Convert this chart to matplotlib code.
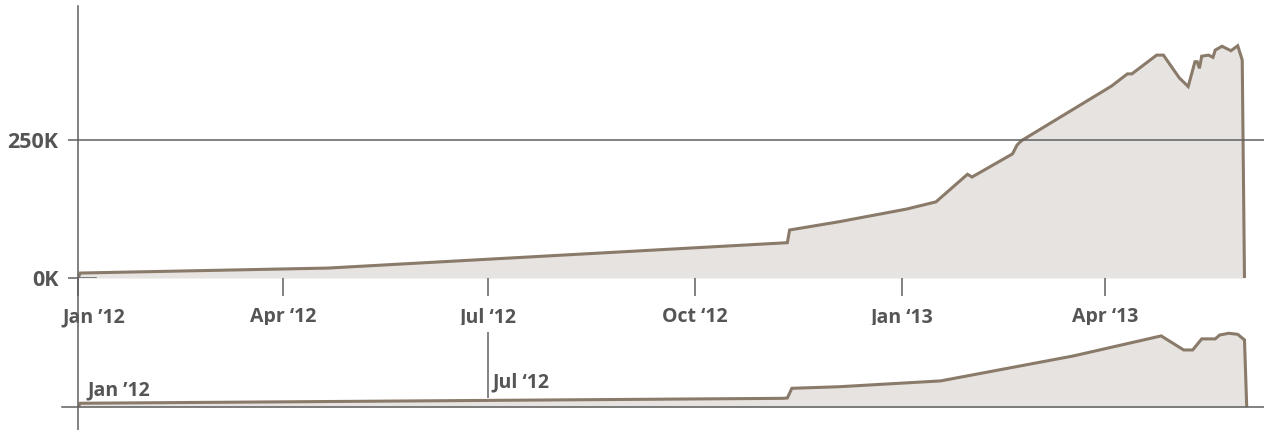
import numpy as np
import pandas as pd
import matplotlib
matplotlib.use("Agg")
import matplotlib.pyplot as plt
import matplotlib.dates as mdates
from matplotlib.lines import Line2D
from matplotlib.transforms import ScaledTranslation

# main series (thousands)
main_dates = ["2012-01-01", "2012-01-02", "2012-04-21", "2012-11-11", "2012-11-12",
              "2012-12-04", "2013-01-03", "2013-01-16", "2013-01-30", "2013-02-01",
              "2013-02-19", "2013-02-21", "2013-02-23", "2013-04-04", "2013-04-11",
              "2013-04-13", "2013-04-24", "2013-04-27", "2013-05-04", "2013-05-08",
              "2013-05-11", "2013-05-12", "2013-05-13", "2013-05-14", "2013-05-17",
              "2013-05-19", "2013-05-20", "2013-05-23", "2013-05-27", "2013-05-30",
              "2013-06-01", "2013-06-02"]
main_vals = [0, 9, 18, 64, 87,
             102, 125, 138, 188, 183,
             225, 241, 249, 348, 370,
             370, 404, 404, 363, 347,
             392, 392, 380, 402, 404,
             400, 413, 420, 412, 421,
             395, 0]

# navigator series (thousands)
nav_dates = ["2012-01-01", "2012-01-02", "2012-11-09", "2012-11-11", "2012-11-13",
             "2012-12-04", "2013-01-18", "2013-03-18", "2013-04-26", "2013-05-06",
             "2013-05-10", "2013-05-14", "2013-05-20", "2013-05-22", "2013-05-26",
             "2013-05-30", "2013-06-02", "2013-06-03"]
nav_vals = [0, 23, 51, 53, 108,
            117, 150, 292, 406, 326,
            326, 389, 389, 411, 421,
            415, 383, 0]

tick_dates = ["2012-01-01", "2012-04-01", "2012-07-01", "2012-10-01", "2013-01-01", "2013-04-01"]
tick_labels = ["Jan \u201912", "Apr \u201812", "Jul \u201812", "Oct \u201812", "Jan \u201813", "Apr \u201813"]
y_ticks = [0, 250]
y_labels = ["0K", "250K"]

line_c = "#8a7a69"
fill_c = "#e7e3e0"
text_c = "#555555"
axis_c = "#5f5f5f"

plt.rcParams['font.family'] = ['Open Sans', 'DejaVu Sans']

W, H = 1264, 430
fig = plt.figure(figsize=(W / 100, H / 100), dpi=100)

x_left = pd.Timestamp("2012-01-01")
x_right = pd.Timestamp("2013-06-10 16:00")

md = pd.to_datetime(main_dates)
nd = pd.to_datetime(nav_dates)

# main chart
ax = fig.add_axes([78 / W, (H - 278) / H, (W - 78) / W, 272 / H])
ax.fill_between(md, main_vals, 0, color=fill_c, lw=0)
ax.plot(md, main_vals, color=line_c, lw=2.2, solid_joinstyle='miter')
ax.set_xlim(x_left, x_right)
ax.set_ylim(0, 493)
for s in ax.spines.values():
    s.set_visible(False)
ax.axhline(250, color=axis_c, lw=1.1, zorder=3)
ax.axhline(0, xmax=0.015, color=axis_c, lw=1.1, zorder=3)
ax.set_yticks(y_ticks)
ax.set_yticklabels(y_labels)
ax.tick_params(axis='y', length=7, width=1.1, color=axis_c, pad=7,
               labelsize=15.5, labelcolor=text_c)
ax.set_xticks(pd.to_datetime(tick_dates))
ax.set_xticklabels(tick_labels)
ax.tick_params(axis='x', length=13, width=1.1, color=axis_c, pad=8,
               labelsize=14, labelcolor=text_c)
for lab in ax.get_yticklabels() + ax.get_xticklabels():
    lab.set_fontweight('bold')
# first label nudged right like the original
first = ax.get_xticklabels()[0]
first.set_transform(first.get_transform() + ScaledTranslation(0.155, 0, fig.dpi_scale_trans))

# navigator
ax2 = fig.add_axes([78 / W, (H - 407.3) / H, (W - 78) / W, 82.3 / H])
ax2.fill_between(nd, nav_vals, 0, color=fill_c, lw=0)
ax2.plot(nd, nav_vals, color=line_c, lw=2.2, solid_joinstyle='miter')
ax2.set_xlim(x_left, x_right)
ax2.set_ylim(0, 468)
for s in ax2.spines.values():
    s.set_visible(False)
ax2.set_xticks([])
ax2.set_yticks([])
ax2.axhline(0, xmin=-16 / (W - 78), xmax=1, color=axis_c, lw=1.1, clip_on=False, zorder=3)
jul = pd.Timestamp(tick_dates[2])
ax2.vlines(jul, 53, 428, color="#7a7a7a", lw=1.3)
ax2.text(jul + pd.Timedelta(days=2), 142, tick_labels[2], fontsize=14, fontweight='bold',
         color=text_c, ha='left', va='center')
ax2.text(x_left + pd.Timedelta(days=4), 98, tick_labels[0], fontsize=14, fontweight='bold',
         color=text_c, ha='left', va='center')

# shared vertical axis line through both panels
fig.add_artist(Line2D([78 / W, 78 / W], [1 - 6 / H, 0], color=axis_c, lw=1.1))

fig.savefig("out.png", dpi=100)
